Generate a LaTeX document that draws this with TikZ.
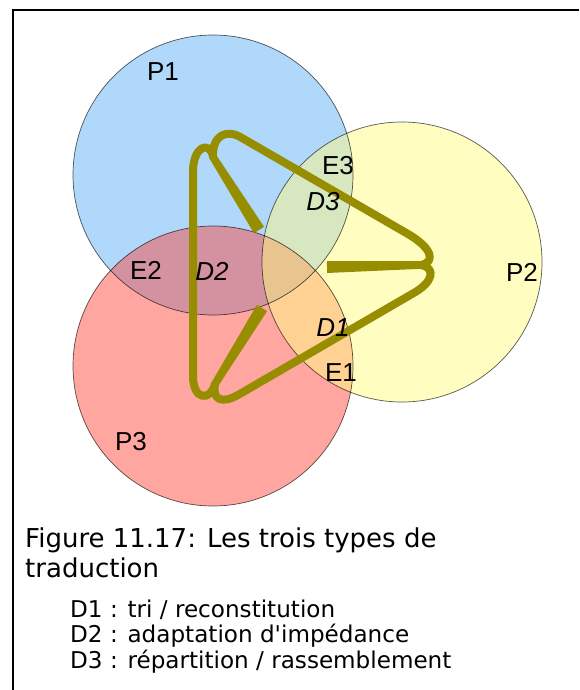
\documentclass[tikz,border=0pt]{standalone}
\usepackage{fontspec}
\usepackage{tikz}
\usetikzlibrary{calc}
\setmainfont{Liberation Sans}
\newfontfamily\capfont{DejaVu Sans}
\definecolor{zoneblue}{RGB}{176,216,250}
\definecolor{zoneyellow}{RGB}{255,253,192}
\definecolor{zonered}{RGB}{255,166,160}
\definecolor{mixby}{RGB}{215,232,192}
\definecolor{mixbr}{RGB}{212,146,160}
\definecolor{mixyr}{RGB}{255,210,148}
\definecolor{mixall}{RGB}{232,196,142}
\definecolor{tradolive}{RGB}{150,142,0}

\newcommand{\taperbar}[2]{%
  \fill[tradolive] ($(#1)!3.8pt!90:(#2)$) -- ($(#2)!6pt!-90:(#1)$)
    -- ($(#2)!6pt!90:(#1)$) -- ($(#1)!3.8pt!-90:(#2)$) -- cycle;}

\begin{document}
\begin{tikzpicture}[x=1pt, y=-1pt,
    zone/.style={circle, minimum size=280pt, inner sep=0pt, fill=#1},
    rim/.style={draw=black, draw opacity=0.65, line width=0.7pt},
    lbl/.style={inner sep=0pt, font=\fontsize{26}{30}\selectfont},
    dlbl/.style={lbl, font=\fontsize{26}{30}\selectfont\itshape},
    loopline/.style={draw=tradolive, line width=8pt, line join=round, line cap=round},
    captxt/.style={anchor=base west, inner sep=0pt, font=\capfont\fontsize{26}{30}\selectfont},
    listtxt/.style={anchor=base west, inner sep=0pt, font=\capfont\fontsize{23.1}{25.5}\selectfont},
]
    \useasboundingbox (0,0) rectangle (579,690);
    \draw[line width=2.4pt] (579,10) -- (13,10) -- (13,690);

    % the three circles
    \node[zone=zoneblue] (p1) at (213,175) {};
    \node[zone=zoneyellow] (p2) at (402,262) {};
    \node[zone=zonered] (p3) at (213,366) {};

    % overlaps
    \begin{scope}
        \clip (p2.center) circle (140pt);
        \fill[mixyr] (p3.center) circle (140pt);
    \end{scope}
    \begin{scope}
        \clip (p1.center) circle (140pt);
        \fill[mixby] (p2.center) circle (140pt);
        \fill[mixbr] (p3.center) circle (140pt);
        \clip (p2.center) circle (140pt);
        \fill[mixall] (p3.center) circle (140pt);
    \end{scope}
    \foreach \p in {p1,p2,p3}
        \draw[rim] (\p.center) circle (140pt);

    % cusps and bar ends
    \coordinate (c1) at (213,157);
    \coordinate (c2) at (421,265);
    \coordinate (c3) at (215,384);
    \coordinate (w1) at (259,230);
    \coordinate (w2) at (327,267);
    \coordinate (w3) at (262,308);

    \draw[loopline] (c1) .. controls (212,136) and (226,128) .. (242,138)
        -- (408,234) .. controls (432,248) and (436,262) .. (c2)
        .. controls (436,268) and (434,282) .. (412,294)
        -- (238,395) .. controls (222,404) and (212,400) .. (c3)
        .. controls (210,402) and (193,400) .. (193,376)
        -- (193,172) .. controls (193,146) and (210,140) .. (c1);
    \taperbar{c1}{w1}
    \taperbar{c2}{w2}
    \taperbar{c3}{w3}

    \node[lbl] (p1lbl) at (163,72) {P1};
    \node[lbl] (p2lbl) at (522,272) {P2};
    \node[lbl] (p3lbl) at (131,442) {P3};
    \node[lbl] (e1) at (341,373) {E1};
    \node[lbl] (e2) at (146,270) {E2};
    \node[lbl] (e3) at (338,166) {E3};
    \node[dlbl] (d1) at (333,328) {D1};
    \node[dlbl] (d2) at (212,271) {D2};
    \node[dlbl] (d3) at (323,202) {D3};

    \node[captxt] (cap1) at (25,547) {Figure 11.17: Les trois types de};
    \node[captxt] (cap2) at (25,577) {traduction};
    \node[listtxt] (t1) at (70,617) {D1 : tri / reconstitution};
    \node[listtxt] (t2) at (70,642) {D2 : adaptation d'impédance};
    \node[listtxt] (t3) at (70,668) {D3 : répartition / rassemblement};
\end{tikzpicture}
\end{document}
